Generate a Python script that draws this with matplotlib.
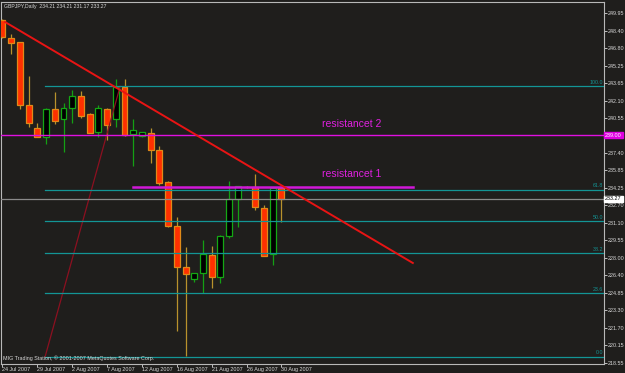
import matplotlib
matplotlib.use('Agg')
import matplotlib.pyplot as plt
import numpy as np

# daily bars, GBPJPY (Sunday bars included, as in the terminal)
dates = ['24 Jul 2007', '25 Jul 2007', '26 Jul 2007', '27 Jul 2007', '29 Jul 2007',
         '30 Jul 2007', '31 Jul 2007', '1 Aug 2007', '2 Aug 2007', '3 Aug 2007',
         '5 Aug 2007', '6 Aug 2007', '7 Aug 2007', '8 Aug 2007', '9 Aug 2007',
         '10 Aug 2007', '12 Aug 2007', '13 Aug 2007', '14 Aug 2007', '15 Aug 2007',
         '16 Aug 2007', '17 Aug 2007', '19 Aug 2007', '20 Aug 2007', '21 Aug 2007',
         '22 Aug 2007', '23 Aug 2007', '24 Aug 2007', '26 Aug 2007', '27 Aug 2007',
         '28 Aug 2007', '29 Aug 2007', '30 Aug 2007']
opens  = [249.35, 247.73, 247.37, 241.71, 239.64, 238.83, 241.35, 240.45, 241.44, 242.52,
          240.90, 239.28, 241.35, 240.45, 243.33, 239.10, 238.92, 239.19, 237.66, 234.79,
          230.83, 227.15, 226.07, 226.61, 228.23, 226.25, 229.94, 233.26, 234.38, 234.34,
          232.45, 228.32, 234.21]
highs  = [249.45, 248.09, 247.40, 244.32, 240.09, 241.40, 242.88, 241.89, 243.06, 242.97,
          240.95, 241.71, 241.45, 244.05, 244.05, 240.45, 239.30, 239.64, 238.02, 234.85,
          231.64, 228.95, 226.65, 229.58, 229.04, 230.00, 234.88, 234.43, 234.40, 235.51,
          232.72, 234.25, 234.21]
lows   = [247.70, 246.29, 241.35, 239.73, 238.80, 238.20, 240.00, 237.49, 240.09, 240.54,
          239.15, 238.83, 238.56, 239.73, 238.95, 236.23, 238.80, 236.50, 234.52, 230.75,
          221.40, 219.15, 225.80, 224.81, 225.26, 225.71, 229.80, 230.75, 234.22, 232.27,
          228.10, 227.33, 231.17]
closes = [247.78, 247.28, 241.71, 240.09, 238.83, 241.33, 240.27, 241.44, 242.52, 240.72,
          239.19, 241.44, 239.91, 243.33, 239.01, 239.46, 239.28, 237.66, 234.70, 230.83,
          227.15, 226.52, 226.61, 228.32, 226.25, 229.94, 233.26, 234.43, 234.30, 232.54,
          228.14, 234.25, 233.27]

date_ticks = [0, 4, 8, 12, 16, 20, 24, 28, 32]
price_ticks = [249.95, 248.40, 246.80, 245.25, 243.65, 242.10, 240.55, 239.00, 237.40,
               235.85, 234.25, 232.70, 231.10, 229.55, 228.00, 226.40, 224.85, 223.30,
               221.70, 220.15, 218.55]

# objects on the chart
trend_x = [0.3, 47.07]
trend_y = [249.17, 227.51]
fib_x = [4.89, 13.5]
fib_low, fib_high = 219.09, 243.39
fib_levels = [0.0, 23.6, 38.2, 50.0, 61.8, 100.0]
res2 = 239.00
res1 = 234.38
res1_x = [14.99, 47.07]
last_price = 233.27

bg = '#1f1e1c'
fg = '#d8d8d8'
teal = '#139595'

fig = plt.figure(figsize=(6.25, 3.73), dpi=100, facecolor=bg)
ax = fig.add_axes([1 / 625, 9 / 373, 603 / 625, 362 / 373], facecolor=bg)

x = np.arange(len(dates))
o = np.array(opens); c = np.array(closes)
h = np.array(highs); l = np.array(lows)
up = c >= o

# candles
ax.vlines(x[up], l[up], h[up], color='#14a014', lw=0.9, zorder=2)
ax.vlines(x[~up], l[~up], h[~up], color='#b8922c', lw=0.9, zorder=2)
ax.bar(x[up], c[up] - o[up], bottom=o[up], width=0.68, color='black',
       edgecolor='#14a814', lw=0.9, zorder=3)
ax.bar(x[~up], o[~up] - c[~up], bottom=c[~up], width=0.68, color='#ff3000',
       edgecolor='#e08a18', lw=0.9, zorder=3)

# fibonacci
ax.plot(fib_x, [fib_low, fib_high], color='#8c1020', lw=0.9, zorder=4)
for lev in fib_levels:
    yv = fib_low + (fib_high - fib_low) * lev / 100
    ax.plot([fib_x[0], 80], [yv, yv], color=teal, lw=0.9, zorder=4)
    ax.text(0.998, yv + 0.12, '%.1f' % lev, color=teal, fontsize=3.8,
            family='Liberation Sans', ha='right', va='bottom',
            transform=ax.get_yaxis_transform(), zorder=6)

# resistance lines
ax.axhline(res2, color='#e010e0', lw=1.0, zorder=4)
ax.plot(res1_x, [res1, res1], color='#d018d8', lw=1.8, zorder=4)
ax.text(36.6, 240.0, 'resistancet 2', color='#e020e0', fontsize=7.5,
        family='Liberation Sans', va='center', zorder=6)
ax.text(36.6, 235.55, 'resistancet 1', color='#e020e0', fontsize=7.5,
        family='Liberation Sans', va='center', zorder=6)

# trend line
ax.plot(trend_x, trend_y, color='#e81414', lw=1.4, zorder=5)

# current price
ax.axhline(last_price, color='#8a8a8a', lw=0.9, zorder=4)

ax.set_xlim(-0.17, 69.0)
ax.set_ylim(218.43, 250.97)

# the 239.00 level is shown in its own box instead of a plain tick label
ax.yaxis.tick_right()
ax.set_yticks(price_ticks)
ax.set_yticklabels(['' if p == res2 else '%.2f' % p for p in price_ticks], fontsize=3.9,
                   family='Liberation Sans', color=fg)
ax.tick_params(axis='y', length=2, width=0.6, color=fg, pad=1)
ax.set_xticks(date_ticks)
ax.set_xticklabels([dates[i] for i in date_ticks], fontsize=3.9,
                   family='Liberation Sans', color=fg, ha='left')
ax.tick_params(axis='x', length=2, width=0.6, color=fg, pad=0.5)

for s in ax.spines.values():
    s.set_color('#b8b8b8')
    s.set_linewidth(0.8)

tr = ax.get_yaxis_transform()
ax.text(1.002, res2, '239.00', color='white', fontsize=3.9, family='Liberation Sans',
        ha='left', va='center', transform=tr, zorder=7, clip_on=False,
        bbox=dict(boxstyle='square,pad=0.15', fc='#e000e0', ec='#e000e0'))
ax.text(1.002, last_price, '233.27', color='black', fontsize=3.9, family='Liberation Sans',
        ha='left', va='center', transform=tr, zorder=7, clip_on=False,
        bbox=dict(boxstyle='square,pad=0.15', fc='white', ec='white'))

ax.text(0.005, 0.995, 'GBPJPY,Daily  234.21 234.21 231.17 233.27', color=fg,
        fontsize=3.7, family='Liberation Sans', ha='left', va='top',
        transform=ax.transAxes, zorder=7)
ax.text(0.003, 0.008, 'MIG Trading Station, \u00a9 2001-2007 MetaQuotes Software Corp.',
        color=fg, fontsize=3.9, family='Liberation Sans', ha='left', va='bottom',
        transform=ax.transAxes, zorder=7)

fig.savefig('out.png', dpi=100, facecolor=bg)
